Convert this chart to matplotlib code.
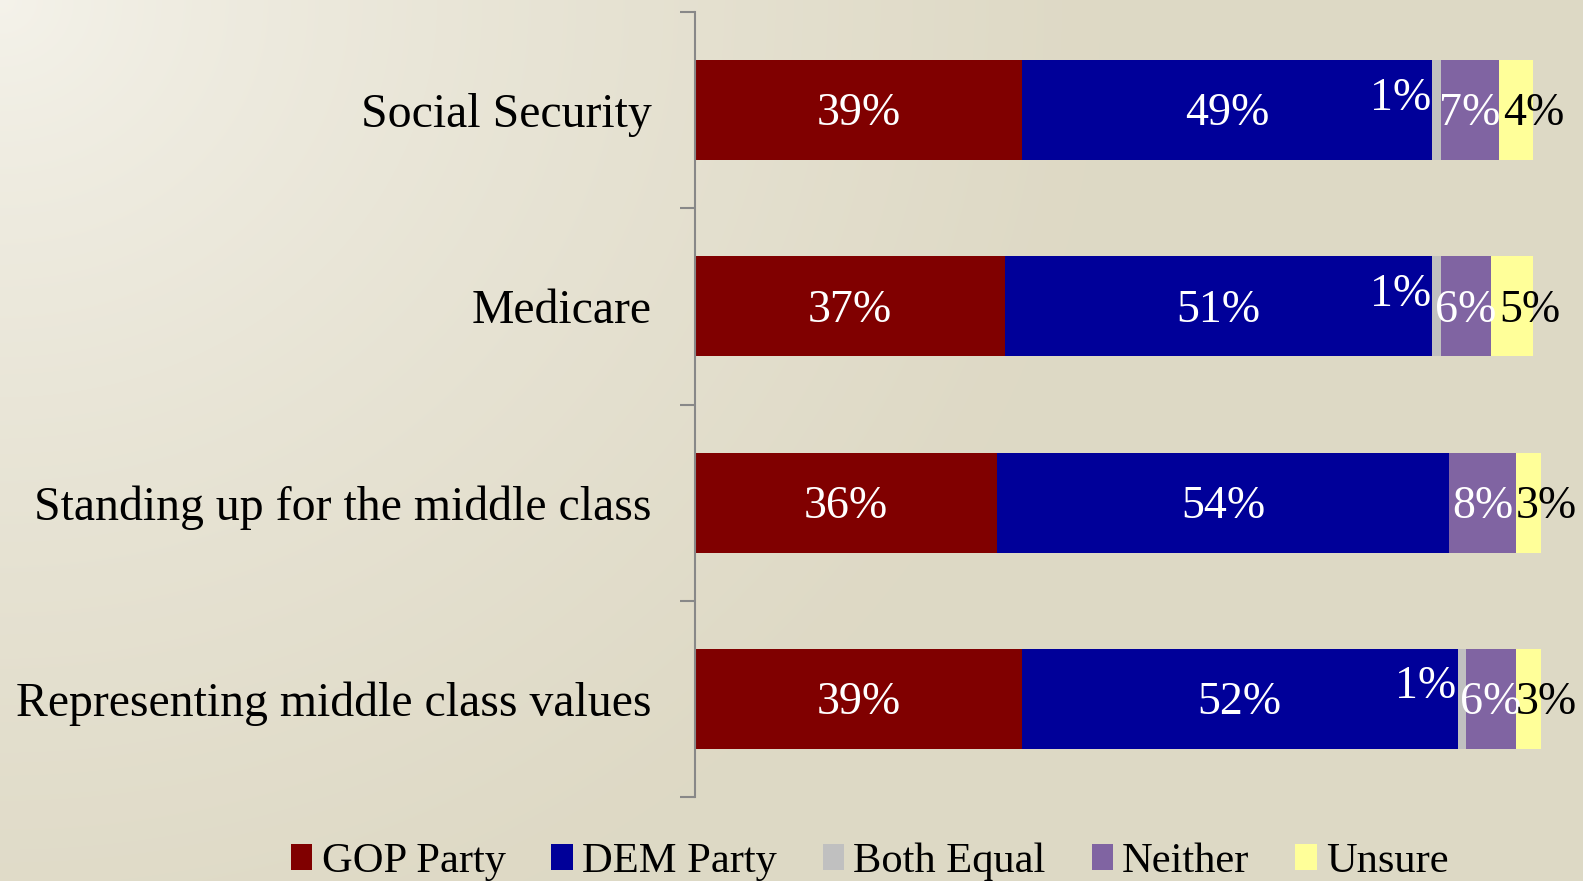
import matplotlib
import matplotlib.pyplot as plt
import numpy as np
from matplotlib.patches import Patch

matplotlib.use('Agg')

categories = ['Social Security', 'Medicare', 'Standing up for the middle class',
              'Representing middle class values']
series = ['GOP Party', 'DEM Party', 'Both Equal', 'Neither', 'Unsure']
gop = [39, 37, 36, 39]
dem = [49, 51, 54, 52]
both = [1, 1, 0, 1]
neither = [7, 6, 8, 6]
unsure = [4, 5, 3, 3]

colours = ['#800000', '#000099', '#C0C0C0', '#8064A2', '#FFFF99']
text_colours = ['white', 'white', 'white', 'white', 'black']

plt.rcParams['font.family'] = ['Liberation Serif', 'DejaVu Serif']

W, H = 1583, 881
fig = plt.figure(figsize=(W / 100, H / 100), dpi=100)

# background: light in the top-left corner fading to beige
bg = fig.add_axes([0, 0, 1, 1])
yy, xx = np.mgrid[0:H, 0:W]
r = np.sqrt(xx ** 2 + (yy * 1.1) ** 2) / 1100.0
t = np.clip(r, 0, 1) ** 0.75
light = np.array([245, 243, 235]) / 255
beige = np.array([222, 217, 197]) / 255
img = light[None, None, :] * (1 - t[..., None]) + beige[None, None, :] * t[..., None]
bg.imshow(img, aspect='auto', extent=[0, 1, 0, 1])
bg.axis('off')

# one percent is about 8.38 px, bars run slightly past 100 from rounding
ax = fig.add_axes([695 / W, 1 - 797 / H, 8.38 * 102 / W, 785 / H])
ax.patch.set_visible(False)

values = [gop, dem, both, neither, unsure]
y = np.arange(len(categories))
left = np.zeros(len(categories))
for k, (name, vals) in enumerate(zip(series, values)):
    vals = np.array(vals, dtype=float)
    ax.barh(y, vals, left=left, height=0.51, color=colours[k], label=name)
    for i, v in enumerate(vals):
        if v <= 0:
            continue
        cx = left[i] + v / 2
        cy = y[i] + 0.02
        if name == 'Both Equal':
            cx -= 4.3
            cy -= 0.08
        elif name == 'Unsure':
            cx += 2.1
        ax.text(cx, cy, f'{int(v)}%', ha='center', va='center',
                fontsize=33, color=text_colours[k])
    left += vals

ax.set_xlim(0, 102)
ax.set_ylim(len(categories) - 0.5, -0.5)
ax.set_xticks([])
ax.set_yticks(y)
ax.set_yticklabels(categories, fontsize=34.4)
ax.tick_params(axis='y', which='major', length=0, pad=31)
ax.set_yticks(np.arange(len(categories) + 1) - 0.5, minor=True)
ax.tick_params(axis='y', which='minor', length=10.8, width=1.5, color='#888888')
for side in ['top', 'right', 'bottom']:
    ax.spines[side].set_visible(False)
ax.spines['left'].set_color('#888888')
ax.spines['left'].set_linewidth(1.5)

handles = [Patch(facecolor=c, edgecolor='none') for c in colours]
fig.legend(handles, series, loc='center', bbox_to_anchor=(0.5495, 0.022), ncol=5,
           frameon=False, fontsize=30.6, handlelength=0.5, handleheight=0.55,
           handletextpad=0.22, columnspacing=1.08, borderpad=0, borderaxespad=0)

fig.savefig('out.png', dpi=100)
